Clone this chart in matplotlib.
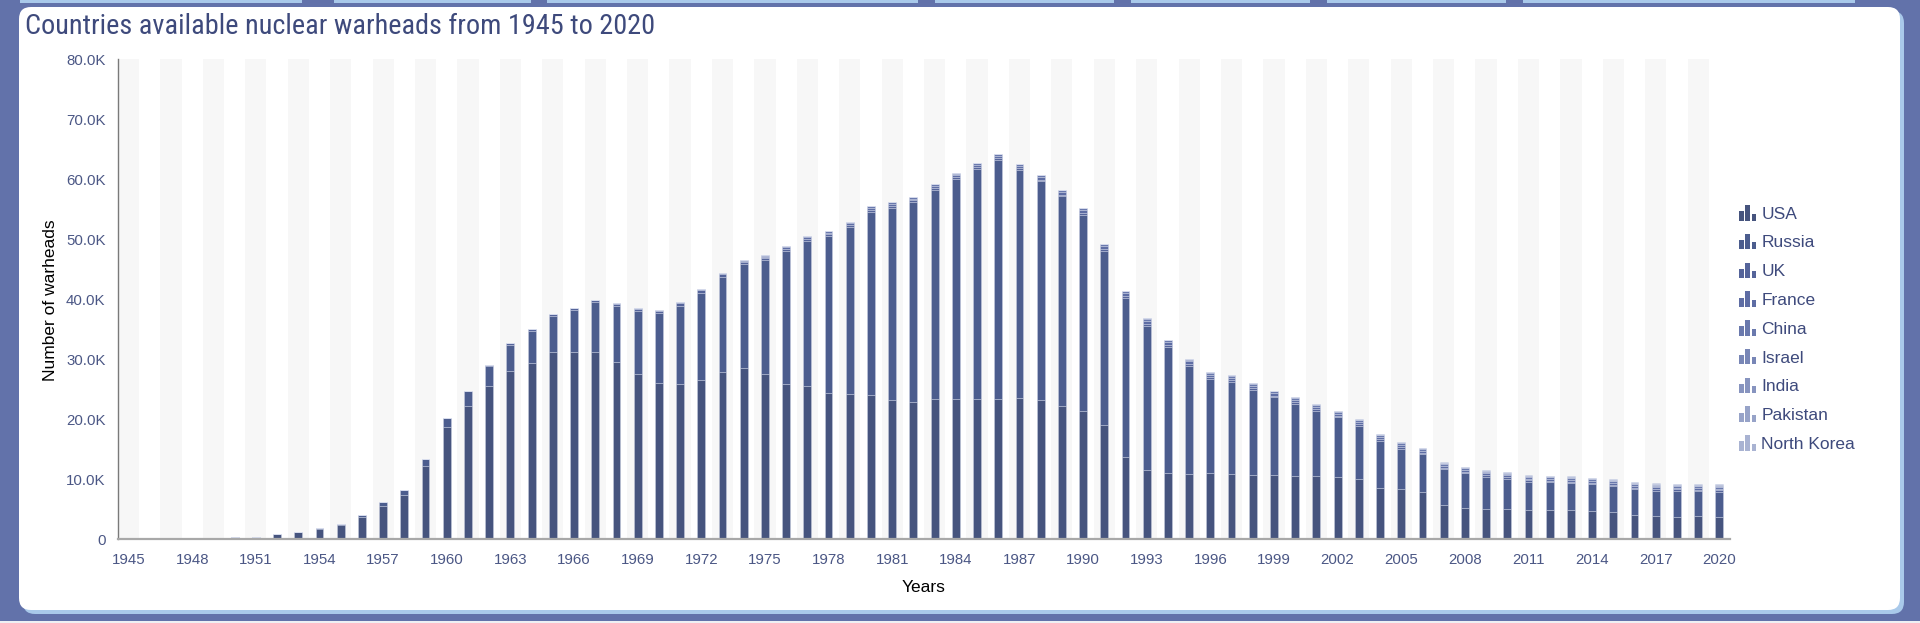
import matplotlib
matplotlib.use("Agg")
import matplotlib.pyplot as plt
from matplotlib import font_manager as fm
from matplotlib.patches import Rectangle, FancyBboxPatch
from matplotlib.legend_handler import HandlerBase
from matplotlib.transforms import IdentityTransform
from matplotlib.ticker import FuncFormatter, FixedLocator

# ---------------- data ----------------
years = list(range(1945, 2021))
countries = ["USA", "Russia", "UK", "France", "China", "Israel", "India", "Pakistan", "North Korea"]

usa = [2, 9, 13, 50, 170, 299, 438, 841, 1169, 1703,
       2422, 3692, 5543, 7345, 12298, 18638, 22229, 25540, 28133, 29463,
       31139, 31175, 31255, 29561, 27552, 26008, 25830, 26516, 27835, 28537,
       27519, 25914, 25542, 24418, 24138, 24104, 23208, 22886, 23305, 23459,
       23368, 23317, 23575, 23205, 22217, 21392, 19008, 13708, 11511, 10979,
       10904, 11011, 10903, 10732, 10685, 10577, 10526, 10457, 10027, 8570,
       8360, 7853, 5709, 5273, 5113, 5066, 4897, 4881, 4804, 4717,
       4571, 4018, 3822, 3785, 3805, 3750]
russia = [0, 0, 0, 0, 1, 5, 25, 50, 120, 150,
          200, 426, 660, 869, 1060, 1605, 2471, 3322, 4238, 5221,
          6129, 7089, 8339, 9399, 10538, 11643, 13092, 14478, 15915, 17385,
          19055, 22200, 24200, 26100, 27935, 30500, 32049, 33250, 34950, 36650,
          38400, 39880, 37950, 36440, 34930, 32740, 29000, 26500, 24100, 21100,
          17930, 15670, 15270, 14145, 12980, 11960, 10920, 9870, 8880, 7820,
          6710, 6300, 6000, 5720, 5330, 5050, 4700, 4600, 4550, 4430,
          4270, 4310, 4300, 4315, 4275, 4205]
uk = [0, 0, 0, 0, 0, 0, 0, 0, 1, 5,
      10, 15, 20, 22, 25, 30, 50, 205, 280, 310,
      310, 310, 280, 280, 308, 375, 420, 492, 416, 300,
      350, 350, 350, 350, 350, 350, 350, 335, 320, 270,
      300, 300, 300, 300, 300, 300, 300, 300, 300, 250,
      300, 300, 300, 280, 281, 281, 281, 281, 281, 281,
      281, 281, 225, 225, 225, 225, 225, 225, 225, 225,
      215, 215, 215, 215, 215, 195]
france = [0] * 19 + [4,
          32, 36, 36, 36, 36, 36, 45, 70, 116, 145,
          188, 212, 228, 235, 235, 250, 274, 274, 279, 280,
          360, 355, 420, 411, 412, 504, 538, 540, 525, 510,
          500, 450, 450, 450, 450, 470, 350, 350, 350, 350,
          350, 350, 350, 350, 300, 300, 300, 300, 300, 300,
          300, 300, 300, 300, 290, 290]
china = [0] * 19 + [1,
         5, 20, 25, 35, 50, 75, 100, 130, 150, 170,
         185, 190, 200, 220, 235, 280, 295, 300, 300, 300,
         300, 300, 300, 300, 300, 300, 300, 300, 300, 300,
         300, 300, 300, 300, 300, 300, 300, 300, 300, 300,
         300, 300, 300, 300, 300, 300, 300, 300, 300, 300,
         300, 300, 300, 300, 300, 320]
israel = [0] * 20 + [0, 0, 2, 4, 6, 8, 11, 15, 20, 25,
          31, 31, 35, 40, 42, 42, 43, 44, 45, 46,
          47, 49, 51, 53, 55, 60, 63, 66, 69, 72,
          75, 77, 78, 80, 80, 80, 80, 80, 80, 80,
          80, 80, 80, 80, 80, 80, 80, 80, 80, 80,
          80, 80, 80, 80, 80, 90]
india = [0] * 50 + [0, 0, 0, 10, 12, 14, 20, 30, 40, 50,
         55, 60, 65, 70, 70, 80, 90, 100, 110, 110,
         120, 120, 130, 130, 140, 150]
pakistan = [0] * 50 + [0, 0, 0, 5, 8, 13, 20, 30, 40, 50,
            60, 70, 70, 80, 80, 90, 100, 110, 120, 120,
            130, 140, 140, 150, 160, 160]
north_korea = [0] * 60 + [0, 2, 2, 4, 6, 8, 10, 10, 12, 12,
               15, 15, 15, 20, 30, 40]

series = [usa, russia, uk, france, china, israel, india, pakistan, north_korea]
colors = ["#46547e", "#4c5d8e", "#55649a", "#5e6da4", "#6a79ad",
          "#7886b6", "#8794bf", "#97a3c8", "#a9b3d2"]

y_ticks = [0, 10000, 20000, 30000, 40000, 50000, 60000, 70000, 80000]
x_tick_years = years[::3]
title = "Countries available nuclear warheads from 1945 to 2020"

# ---------------- fonts ----------------
def has_font(name):
    try:
        fm.findfont(fm.FontProperties(family=name), fallback_to_default=False)
        return True
    except Exception:
        return False

base_font = "Liberation Sans" if has_font("Liberation Sans") else "DejaVu Sans"
if has_font("Liberation Sans Narrow"):
    title_font, title_size = "Liberation Sans Narrow", 20.3
elif has_font("Roboto Condensed"):
    title_font, title_size = "Roboto Condensed", 20.3
else:
    title_font, title_size = "Roboto", 17.5
plt.rcParams["font.family"] = [base_font, "DejaVu Sans"]

TXT = "#4b5785"
W, H = 1920, 623
fig = plt.figure(figsize=(19.2, 6.23), dpi=100, facecolor="#6272aa")

# ---------------- background panel ----------------
for x0, x1 in [(20, 302), (334, 531), (547, 918), (935, 1114), (1131, 1310), (1327, 1506), (1523, 1855)]:
    fig.patches.append(Rectangle((x0, H - 3), x1 - x0, 3, transform=IdentityTransform(),
                                 facecolor="#a9c9ea", edgecolor="none", zorder=0))
fig.patches.append(Rectangle((0, 0), W, 2, transform=IdentityTransform(),
                             facecolor="#eef0f4", edgecolor="none", zorder=0))
fig.patches.append(FancyBboxPatch((23, H - 614), 1881, 603,
                                  boxstyle="round,pad=0,rounding_size=12",
                                  transform=IdentityTransform(),
                                  facecolor="#a9c9ea", edgecolor="none", zorder=0))
fig.patches.append(FancyBboxPatch((19, H - 610), 1881, 603,
                                  boxstyle="round,pad=0,rounding_size=12",
                                  transform=IdentityTransform(),
                                  facecolor="white", edgecolor="none", zorder=1))

# ---------------- axes ----------------
left, right = 118 / W, 1730 / W
bottom, top = (H - 539.3) / H, (H - 59.3) / H
ax = fig.add_axes([left, bottom, right - left, top - bottom])
ax.set_facecolor("none")
ax.set_zorder(2)

n = len(years)
xs = list(range(n))
for i in xs[::2]:
    ax.axvspan(i - 0.5, i + 0.5, color="#f7f7f7", zorder=0, lw=0)

bottoms = [0] * n
for name, vals, col in zip(countries, series, colors):
    ax.bar(xs, vals, width=0.37, bottom=bottoms, color=col,
           edgecolor=(0.86, 0.88, 0.94, 0.6), linewidth=0.4, zorder=2, label=name)
    bottoms = [b + v for b, v in zip(bottoms, vals)]

ax.set_xlim(-0.5, n - 0.5)
ax.set_ylim(0, 80000)
ax.yaxis.set_major_locator(FixedLocator(y_ticks))
ax.yaxis.set_major_formatter(FuncFormatter(lambda v, p: "0" if v == 0 else f"{v/1000:.1f}K"))
ax.set_xticks([years.index(y) for y in x_tick_years])
ax.set_xticklabels([str(y) for y in x_tick_years])
ax.tick_params(axis="both", length=0, colors=TXT, labelsize=10.8)
ax.tick_params(axis="y", pad=9)
ax.tick_params(axis="x", pad=10)

for s in ["top", "right"]:
    ax.spines[s].set_visible(False)
ax.spines["left"].set_color("#7a7a7a")
ax.spines["left"].set_linewidth(1.0)
ax.spines["bottom"].set_color("#a8a8a8")
ax.spines["bottom"].set_linewidth(1.6)
ax.spines["left"].set_zorder(3)
ax.spines["bottom"].set_zorder(3)

fig.text(51 / W, 1 - 300 / H, "Number of warheads", rotation=90, ha="center", va="center",
         fontsize=12.5, color="black")
fig.text(924 / W, 1 - 587 / H, "Years", ha="center", va="center", fontsize=12.5, color="black")
fig.text(25 / W, 1 - 27 / H, title, ha="left", va="center", fontsize=title_size,
         color="#3e4a7c", family=[title_font, "DejaVu Sans"])

# ---------------- legend ----------------
class BarIconHandler(HandlerBase):
    def create_artists(self, legend, orig_handle, xdescent, ydescent, width, height, fontsize, trans):
        col = orig_handle.get_facecolor()
        bw = width / 3.7
        gap = (width - 3 * bw) / 2
        hs = [0.6, 1.0, 0.45]
        arts = []
        for k, hh in enumerate(hs):
            r = Rectangle((-xdescent + k * (bw + gap), -ydescent), bw, height * hh,
                          facecolor=col, edgecolor="none", transform=trans)
            arts.append(r)
        return arts

handles = [Rectangle((0, 0), 1, 1, facecolor=c) for c in colors]
leg = fig.legend(handles, countries, loc="upper left",
                 bbox_to_anchor=(1739 / W, 1 - 205 / H), frameon=False,
                 fontsize=12.5, handlelength=1.0, handleheight=1.0, handletextpad=0.28,
                 labelspacing=0.695, borderpad=0, borderaxespad=0,
                 handler_map={Rectangle: BarIconHandler()})
for t in leg.get_texts():
    t.set_color("#3e4a7c")

fig.savefig("out.png", dpi=100, facecolor=fig.get_facecolor())
